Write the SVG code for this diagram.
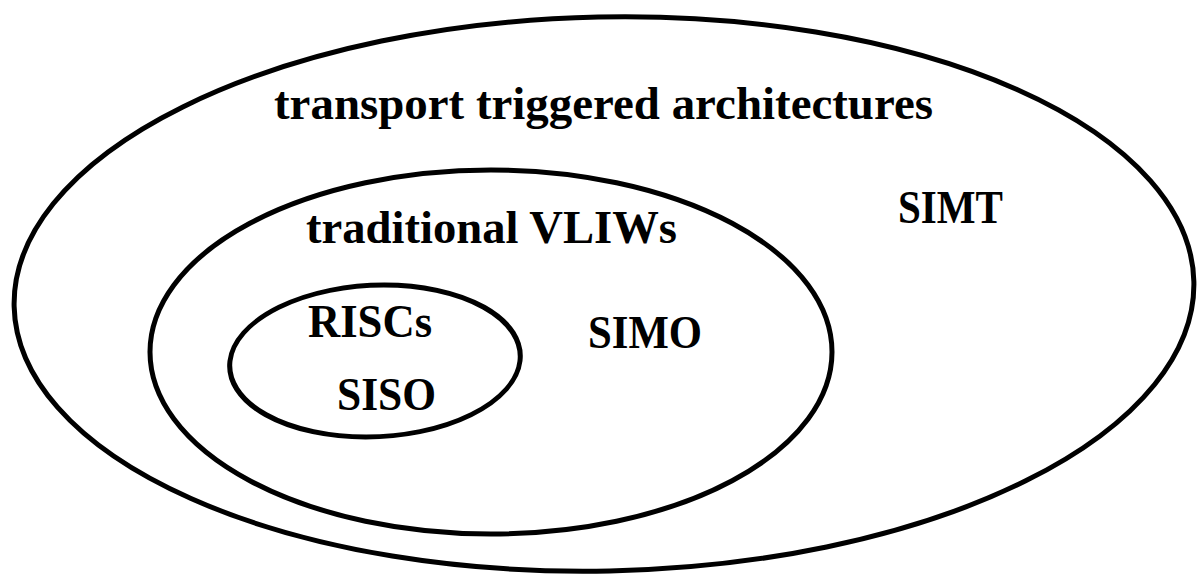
<svg xmlns="http://www.w3.org/2000/svg" width="1197" height="576" viewBox="0 0 1197 576">
<style>
.set{fill:none;stroke:#000;stroke-width:5}
.lbl{font-family:"Liberation Serif","Times New Roman",serif;font-weight:bold;fill:#000}
</style>
<rect width="1197" height="576" fill="#fff"/>
<g id="tta">
<ellipse class="set" cx="604" cy="294" rx="590" ry="277" transform="rotate(-1.2 604 294)"/>
<text class="lbl" x="274" y="119" font-size="46" textLength="659" lengthAdjust="spacingAndGlyphs">transport triggered architectures</text>
<text class="lbl" x="898" y="223" font-size="46" textLength="105" lengthAdjust="spacingAndGlyphs">SIMT</text>
</g>
<g id="vliw">
<ellipse class="set" cx="491" cy="352" rx="341" ry="182"/>
<text class="lbl" x="306" y="243" font-size="46" textLength="371" lengthAdjust="spacingAndGlyphs">traditional VLIWs</text>
<text class="lbl" x="588" y="348" font-size="46" textLength="114" lengthAdjust="spacingAndGlyphs">SIMO</text>
</g>
<g id="risc">
<ellipse class="set" cx="375" cy="361" rx="145" ry="76" transform="matrix(1 0 -0.12 1 43.3 0)"/>
<text class="lbl" x="308" y="337" font-size="46" textLength="124" lengthAdjust="spacingAndGlyphs">RISCs</text>
<text class="lbl" x="337" y="410" font-size="46" textLength="99" lengthAdjust="spacingAndGlyphs">SISO</text>
</g>
<g id="connectors"></g>
</svg>
